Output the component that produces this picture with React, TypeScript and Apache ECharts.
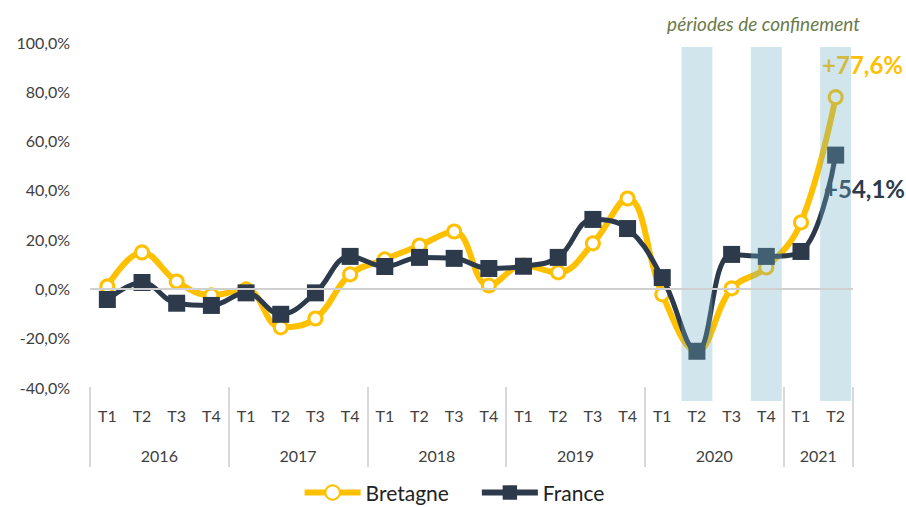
import React, { useEffect, useRef } from "react";
import * as echarts from "echarts";

const quarters = [
  "T1", "T2", "T3", "T4",
  "T1", "T2", "T3", "T4",
  "T1", "T2", "T3", "T4",
  "T1", "T2", "T3", "T4",
  "T1", "T2", "T3", "T4",
  "T1", "T2",
];
const years = ["2016", "2017", "2018", "2019", "2020", "2021"];
const quartersPerYear = [4, 4, 4, 4, 4, 2];

const bretagne = [
  0.8, 14.6, 2.8, -2.8,
  -0.4, -15.8, -12.2, 5.7,
  11.8, 17.4, 23.1, 1.2,
  9.3, 6.5, 18.3, 36.5,
  -2.4, -25.5, 0, 8.5,
  26.8, 77.6,
];
const france = [
  -4.5, 2.4, -6, -6.9,
  -1.8, -10.5, -1.8, 13,
  8.9, 12.6, 12.2, 8.1,
  9, 12.6, 28, 24.3,
  4.4, -25.5, 13.8, 13,
  15, 54.1,
];
// 1 = période de confinement
const lockdown = [
  0, 0, 0, 0,
  0, 0, 0, 0,
  0, 0, 0, 0,
  0, 0, 0, 0,
  0, 1, 0, 1,
  0, 1,
];

const YELLOW = "#FFC000";
const NAVY = "#2C3A4C";
const FONT = "Lato";

const fmt = (v: number) => v.toFixed(1).replace(".", ",");

export default function App() {
  const ref = useRef<HTMLDivElement>(null);

  useEffect(() => {
    if (!ref.current) return;
    const chart = echarts.init(ref.current, undefined, { renderer: "svg" });

    const boundaries: number[] = [0];
    const centres: number[] = [];
    let acc = 0;
    quartersPerYear.forEach((n) => {
      centres.push(acc + n / 2);
      acc += n;
      boundaries.push(acc);
    });

    const left = 90;
    const right = 53;

    chart.setOption({
      animation: false,
      textStyle: { fontFamily: FONT },
      grid: [
        { left, right, top: 42, bottom: 120 },
        { left, right, top: 47, bottom: 106 },
      ],
      xAxis: [
        {
          type: "category",
          gridIndex: 0,
          data: quarters,
          boundaryGap: true,
          axisLine: { show: false },
          axisTick: { show: false },
          axisLabel: { color: "#404040", fontSize: 16, margin: 20, fontFamily: FONT },
        },
        {
          type: "value",
          gridIndex: 0,
          position: "bottom",
          min: 0,
          max: acc,
          splitLine: { show: false },
          axisLine: { show: false },
          axisTick: {
            show: true,
            customValues: boundaries,
            length: 80,
            lineStyle: { color: "#d9d9d9", width: 2 },
          },
          axisLabel: {
            customValues: centres,
            color: "#404040",
            fontSize: 16,
            margin: 60,
            fontFamily: FONT,
            formatter: (v: number) => years[centres.indexOf(v)] ?? "",
          },
        },
        {
          type: "category",
          gridIndex: 1,
          data: quarters,
          show: false,
        },
      ],
      yAxis: [
        {
          type: "value",
          gridIndex: 0,
          min: -40,
          max: 100,
          interval: 20,
          splitLine: { show: false },
          axisLine: { show: false },
          axisTick: { show: false },
          axisLabel: {
            color: "#404040",
            fontSize: 16,
            margin: 20,
            fontFamily: FONT,
            formatter: (v: number) => fmt(v) + "%",
          },
        },
        {
          type: "value",
          gridIndex: 1,
          min: 0,
          max: 1,
          show: false,
        },
      ],
      legend: {
        top: 477,
        left: "center",
        itemWidth: 56,
        itemHeight: 18,
        itemGap: 30,
        lineStyle: { width: 6 },
        textStyle: { fontSize: 21, color: "#222", fontFamily: FONT },
        data: ["Bretagne", "France"],
      },
      series: [
        {
          name: "Bretagne",
          type: "line",
          xAxisIndex: 0,
          yAxisIndex: 0,
          data: bretagne,
          smooth: 0.4,
          symbol: "circle",
          symbolSize: 13,
          lineStyle: { color: YELLOW, width: 6 },
          itemStyle: { color: "#fff", borderColor: YELLOW, borderWidth: 3 },
          z: 3,
          markLine: {
            silent: true,
            symbol: "none",
            label: { show: false },
            lineStyle: { color: "#d0d0d0", width: 2, type: "solid" },
            data: [{ yAxis: 0 }],
            z: 10,
          },
        },
        {
          name: "France",
          type: "line",
          xAxisIndex: 0,
          yAxisIndex: 0,
          data: france,
          smooth: 0.4,
          symbol: "rect",
          symbolSize: 17,
          lineStyle: { color: NAVY, width: 5 },
          itemStyle: { color: NAVY, borderColor: NAVY, borderWidth: 0 },
          z: 4,
        },
        {
          name: "confinement",
          type: "bar",
          xAxisIndex: 2,
          yAxisIndex: 1,
          data: lockdown,
          barWidth: 31,
          silent: true,
          itemStyle: { color: "rgba(111,177,196,0.32)" },
          z: 8,
        },
      ],
      graphic: [
        {
          type: "text",
          right: 46,
          top: 14,
          style: {
            text: "périodes de confinement",
            fontFamily: FONT,
            fontStyle: "italic",
            fontSize: 19,
            fill: "#6b7a4a",
          },
        },
        {
          type: "text",
          right: 3,
          top: 52,
          style: {
            text: "+" + fmt(bretagne[bretagne.length - 1]) + "%",
            fontFamily: FONT,
            fontWeight: "bold",
            fontSize: 24,
            fill: YELLOW,
          },
        },
        {
          type: "text",
          right: 1,
          top: 176,
          style: {
            text: "+" + fmt(france[france.length - 1]) + "%",
            fontFamily: FONT,
            fontWeight: "bold",
            fontSize: 24,
            fill: NAVY,
          },
          z: 2,
        },
      ],
    });

    return () => chart.dispose();
  }, []);

  return <div ref={ref} style={{ width: 906, height: 507, position: "absolute", left: 0, top: 0 }} />;
}
